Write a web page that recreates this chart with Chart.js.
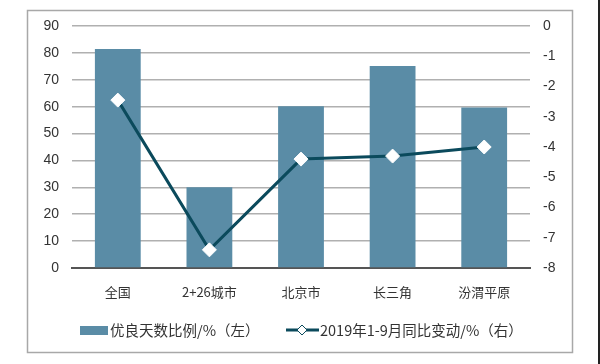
<!DOCTYPE html>
<html>
<head>
<meta charset="utf-8">
<script src="https://cdn.jsdelivr.net/npm/chart.js@4.4.1/dist/chart.umd.min.js"></script>
<style>
  html, body { margin: 0; padding: 0; background: #fff; }
  #wrap { width: 600px; height: 364px; position: relative; }
</style>
</head>
<body>
<div id="wrap"><canvas id="chartCanvas" width="600" height="364"></canvas></div>
<script>
const categories = ['全国', '2+26城市', '北京市', '长三角', '汾渭平原'];
const goodDays = [81.4, 30.0, 60.2, 75.1, 59.7];
const yoyChange = [-2.45, -7.4, -4.4, -4.3, -4.0];
const barLabel = '优良天数比例/%（左）';
const lineLabel = '2019年1-9月同比变动/%（右）';

const barColor = '#5a8ca6';
const lineColor = '#0b4a5c';
const cjk = '"Noto Sans CJK SC", "Liberation Sans", sans-serif';
const latin = '"Liberation Sans", Arial, sans-serif';

// frame and legend drawn by hand
const framePlugin = {
  id: 'frame',
  beforeDraw(chart) {
    const c = chart.ctx;
    c.save();
    c.fillStyle = '#fff';
    c.fillRect(0, 0, chart.width, chart.height);
    c.strokeStyle = '#a8a8a8';
    c.lineWidth = 1.5;
    c.strokeRect(27.5, 10.5, 545, 342);
    c.strokeStyle = '#222';
    c.lineWidth = 2;
    c.beginPath();
    c.moveTo(599, 0);
    c.lineTo(599, 364);
    c.stroke();
    c.restore();
  },
  afterDraw(chart) {
    const c = chart.ctx;
    const y = 330;
    c.save();
    c.fillStyle = barColor;
    c.fillRect(80, y - 4, 28, 9);
    c.fillStyle = '#333';
    c.font = '14.5px ' + cjk;
    c.textBaseline = 'middle';
    c.fillText(barLabel, 110, y);

    c.strokeStyle = lineColor;
    c.lineWidth = 3;
    c.beginPath();
    c.moveTo(286, y);
    c.lineTo(319, y);
    c.stroke();
    c.fillStyle = '#fff';
    c.beginPath();
    c.moveTo(302, y - 5);
    c.lineTo(307, y);
    c.lineTo(302, y + 5);
    c.lineTo(297, y);
    c.closePath();
    c.fill();
    c.lineWidth = 1;
    c.stroke();
    c.fillStyle = '#333';
    c.font = '14.5px "Noto Sans CJK SC", "DejaVu Sans Mono", monospace';
    c.fillText(lineLabel, 320, y);
    c.restore();
  }
};

const ctx = document.getElementById('chartCanvas').getContext('2d');
new Chart(ctx, {
  data: {
    labels: categories,
    datasets: [
      {
        type: 'line',
        label: lineLabel,
        data: yoyChange,
        yAxisID: 'yRight',
        borderColor: lineColor,
        borderWidth: 3,
        pointStyle: 'rectRot',
        pointRadius: 7,
        pointBackgroundColor: '#fff',
        pointBorderColor: '#fff',
        pointBorderWidth: 1,
        tension: 0,
        order: 0
      },
      {
        type: 'bar',
        label: barLabel,
        data: goodDays,
        yAxisID: 'yLeft',
        backgroundColor: barColor,
        categoryPercentage: 0.5,
        barPercentage: 1.0,
        order: 1
      }
    ]
  },
  options: {
    responsive: false,
    animation: false,
    layout: { padding: { left: 0, right: 0, top: 26, bottom: 0 } },
    plugins: {
      legend: { display: false },
      tooltip: { enabled: false }
    },
    scales: {
      x: {
        grid: { display: false, drawTicks: false },
        border: { display: true, color: '#555', width: 2 },
        ticks: { color: '#333', font: { family: cjk, size: 13 }, padding: 16 },
        afterFit(scale) { scale.height = 96; }
      },
      yLeft: {
        position: 'left',
        min: 0,
        max: 90,
        ticks: { stepSize: 10, color: '#333', font: { family: latin, size: 14 }, padding: 13 },
        grid: { color: '#b0b0b0', lineWidth: 1.5, drawTicks: false },
        border: { display: false },
        afterFit(scale) { scale.width = 72; }
      },
      yRight: {
        position: 'right',
        min: -8,
        max: 0,
        ticks: { stepSize: 1, color: '#333', font: { family: latin, size: 14 }, padding: 13 },
        grid: { display: false, drawTicks: false },
        border: { display: false },
        afterFit(scale) { scale.width = 70; }
      }
    }
  },
  plugins: [framePlugin]
});
</script>
</body>
</html>
